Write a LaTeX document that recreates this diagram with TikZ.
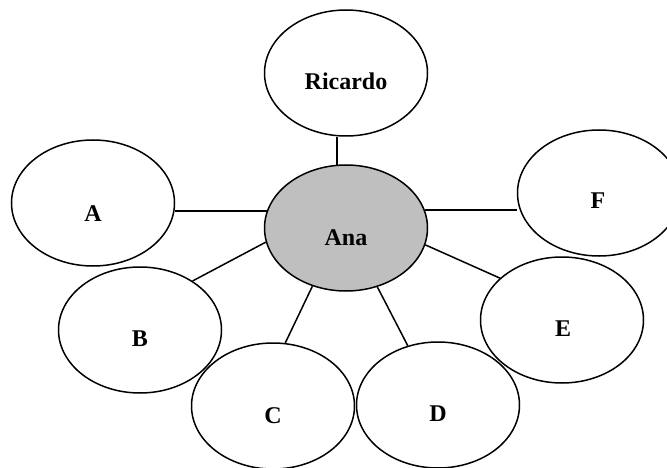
\documentclass[tikz,border=0pt]{standalone}
\usepackage{fontspec}
\setmainfont{Liberation Serif}
\usetikzlibrary{shapes.geometric}
\begin{document}
\begin{tikzpicture}[x=1pt,y=-1pt,
  person/.style={ellipse,draw=black,line width=1.5pt,fill=white,inner sep=0pt,
    minimum width=163pt,minimum height=126pt},
  centre/.style={person,fill=gray!50},
  nametext/.style={anchor=base,inner sep=0pt,font=\fontsize{24}{24}\selectfont\bfseries},
  link/.style={line width=1.5pt}]
\useasboundingbox (0,0) rectangle (667,468);
\begin{scope}
\clip (0,0) rectangle (667,468);
% ellipses
\node[person] (ricardo) at (346,73) {};
\node[centre] (ana) at (346,228) {};
\node[person] (a) at (93,203) {};
\node[person] (f) at (599,193) {};
\node[person] (b) at (140,330) {};
\node[person] (e) at (562,320) {};
\node[person] (c) at (273,406) {};
\node[person] (d) at (438,405) {};
% connectors
\draw[link] (ricardo.south -| ana.98.1) -- (ana.98.1);
\draw[link] (a.east |- ana.168.7) -- (ana.168.7);
\draw[link] (b.43.9) -- (ana.190.7);
\draw[link] (f.west |- ana.13.9) -- (ana.13.9);
\draw[link] (e.146.5) -- (ana.348.1);
\draw[link] (c.79.2) -- (ana.240.8);
\draw[link] (d.117) -- (ana.298.5);
\end{scope}
% names
\node[nametext] (tricardo) at (346,90) {Ricardo};
\node[nametext] (tana) at (346,245) {Ana};
\node[nametext] (ta) at (93,221) {A};
\node[nametext] (tf) at (598,208) {F};
\node[nametext] (tb) at (140,346) {B};
\node[nametext] (te) at (563,336) {E};
\node[nametext] (tc) at (273,423) {C};
\node[nametext] (td) at (438,421) {D};
\end{tikzpicture}
\end{document}
